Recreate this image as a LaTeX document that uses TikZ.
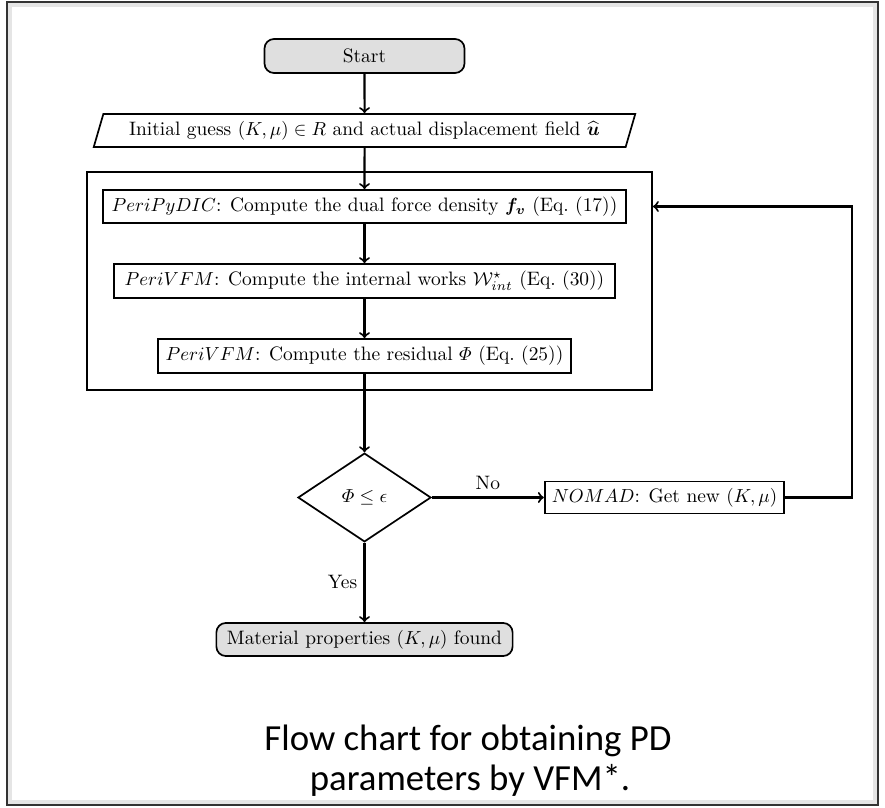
\documentclass[tikz,border=0pt]{standalone}
\usepackage{amsmath}
\usepackage{amssymb}
\usepackage{fontspec}
\newfontfamily\capfont{Carlito}
\usetikzlibrary{positioning}
\usetikzlibrary{shapes.geometric}

\begin{document}
\begin{tikzpicture}
           [x=0.53pt, y=-0.53pt, line width=0.9pt,
            every node/.style = {font=\fontsize{10.3}{12.4}\selectfont},
            box/.style = {draw, rectangle, inner sep=3pt, minimum height=17.5pt},
            term/.style = {box, rounded corners=5pt, fill=gray!25},
            io/.style = {draw, trapezium, trapezium left angle=73, trapezium right angle=107,
                         trapezium stretches body, minimum height=17.5pt, minimum width=287pt},
            decision/.style = {draw, diamond, aspect=1.5, inner sep=1pt,
                               minimum width=70.5pt, minimum height=47pt},
            line/.style = {->, line width=1.1pt},
            captext/.style = {font=\capfont\fontsize{19.5}{23}\selectfont, anchor=base}]
            \useasboundingbox (0,0) rectangle (885,808);
            \draw[gray!20, line width=2.5pt] (10,5) rectangle (875,802);
            \draw[black!80] (7,2) rectangle (878,805);

            \node[term, minimum width=106pt, minimum height=18pt] (start) at (364.5,56) {Start};
            \node[io] (init) at (364.5,130.5) {Initial guess $(K,\mu)\in R$ and actual displacement field $\widehat{\boldsymbol{u}}$};
            \node[draw, minimum width=299.5pt, minimum height=115.5pt] (loop) at (369.5,281) {};
            \node[box, minimum width=277pt] (pyd) at (364.5,206.5) {$PeriPyDIC$: Compute the dual force density $\boldsymbol{f_v}$ (Eq.~(17))};
            \node[box, minimum width=265.5pt, minimum height=18pt] (wint) at (364.5,281) {$PeriVFM$: Compute the internal works $\mathcal{W}^{\star}_{int}$ (Eq.~(30))};
            \node[box, minimum width=219pt, minimum height=18pt] (res) at (364.5,356) {$PeriVFM$: Compute the residual $\varPhi$ (Eq.~(25))};
            \node[decision] (dec) at (364.5,497.5) {$\varPhi\leq\epsilon$};
            \node[box, minimum width=127pt, minimum height=17pt] (nomad) at (664.5,497.5) {$NOMAD$: Get new $(K,\mu)$};
            \node[term, minimum width=157pt] (found) at (364.5,639.5) {Material properties $(K,\mu)$ found};

            \path[line] (start) edge (init);
            \path[line] (init) edge (pyd);
            \path[line] (pyd) edge (wint);
            \path[line] (wint) edge (res);
            \path[line] (res) edge (dec);
            \path[line] (dec) edge node[above] {No} (nomad);
            \path[line] (dec) edge node[left] {Yes} (found);
            \draw[line] (nomad.east) -- ++(67,0) |- (loop.east |- pyd);

            \node[captext] (cap1) at (468,750) {Flow chart for obtaining PD};
            \node[captext] (cap2) at (470,790) {parameters by VFM*.};
        \end{tikzpicture}
\end{document}
